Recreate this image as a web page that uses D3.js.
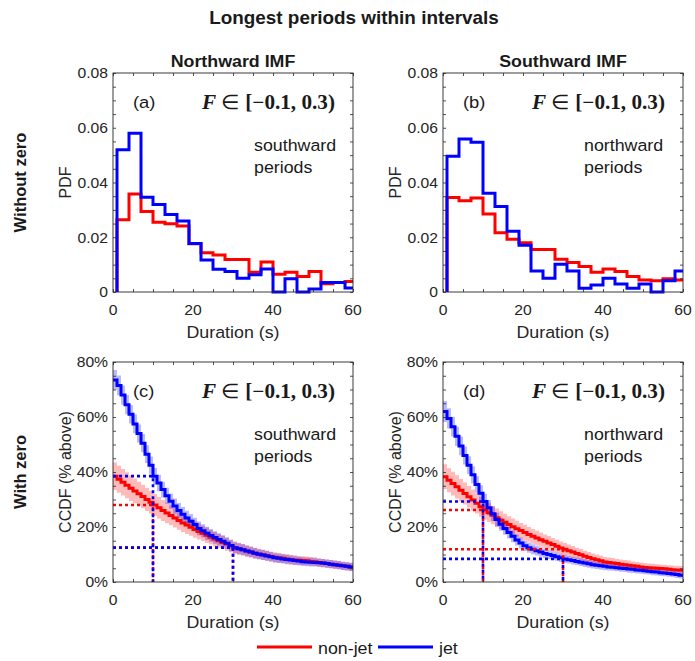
<!DOCTYPE html>
<html>
<head>
<meta charset="utf-8">
<script src="https://cdn.jsdelivr.net/npm/d3@7"></script>
<style>
  body { margin: 0; background: #fff; }
  svg { display: block; }
</style>
</head>
<body>
<svg id="fig" width="695" height="661"></svg>
<script>
// ---------- data ----------
// PDF histograms: 3-s bins, each value is the density of the bin starting at binStarts[i]
const binStarts = [1, 4, 7, 10, 13, 16, 19, 22, 25, 28, 31, 34, 37, 40, 43, 46, 49, 52, 55, 58];

const pdfNorthNonJet = [0.0264, 0.0358, 0.0294, 0.0255, 0.0249, 0.0241, 0.0176, 0.0143, 0.0135, 0.0119,
                        0.0119, 0.0072, 0.0110, 0.0065, 0.0072, 0.0057, 0.0075, 0.0030, 0.0035, 0.0038];
const pdfNorthJet    = [0.0520, 0.0580, 0.0346, 0.0320, 0.0283, 0.0259, 0.0177, 0.0117, 0.0083, 0.0075,
                        0.0050, 0.0063, 0.0084, 0.0000, 0.0048, 0.0000, 0.0011, 0.0035, 0.0035, 0.0015];
const pdfSouthNonJet = [0.0345, 0.0333, 0.0343, 0.0285, 0.0216, 0.0193, 0.0180, 0.0155, 0.0155, 0.0120,
                        0.0108, 0.0093, 0.0072, 0.0084, 0.0075, 0.0057, 0.0044, 0.0041, 0.0048, 0.0044];
const pdfSouthJet    = [0.0496, 0.0559, 0.0547, 0.0361, 0.0312, 0.0222, 0.0171, 0.0077, 0.0050, 0.0101,
                        0.0077, 0.0014, 0.0026, 0.0050, 0.0029, 0.0014, 0.0029, 0.0000, 0.0041, 0.0077];

// CCDF (% of periods longer than the duration), one value per second, 0..60 s
const ccdfSeconds = d3.range(0, 61);

const ccdfNorthNonJet = [38.5, 37.4, 36.3, 35.2, 34.1, 33.1, 32.1, 31.1, 30.0, 29.0, 28.0,
                         27.0, 26.0, 25.1, 24.2, 23.3, 22.4, 21.5, 20.7, 19.9, 19.1,
                         18.4, 17.7, 17.0, 16.3, 15.6, 15.0, 14.4, 13.8, 13.1, 12.5,
                         12.1, 11.7, 11.3, 10.9, 10.5, 10.2, 9.9, 9.6, 9.3, 9.0,
                         8.8, 8.6, 8.4, 8.2, 8.0, 7.9, 7.8, 7.7, 7.5, 7.4,
                         7.1, 6.9, 6.7, 6.5, 6.3, 6.1, 5.9, 5.7, 5.5, 5.3];
const ccdfNorthJet    = [73.5, 71.5, 68.0, 64.5, 61.0, 57.5, 54.0, 50.5, 46.5, 42.5, 38.5,
                         36.0, 33.6, 31.4, 29.4, 27.6, 26.0, 24.6, 23.3, 22.1, 20.9,
                         19.5, 18.6, 17.7, 16.9, 16.2, 15.5, 14.8, 14.1, 13.3, 12.5,
                         12.1, 11.7, 11.3, 10.9, 10.5, 10.1, 9.8, 9.5, 9.2, 8.8,
                         8.6, 8.4, 8.2, 8.0, 7.8, 7.6, 7.4, 7.3, 7.2, 7.1,
                         7.0, 6.9, 6.7, 6.5, 6.3, 6.1, 5.9, 5.7, 5.5, 5.3];
const ccdfSouthNonJet = [38.3, 37.0, 35.8, 34.6, 33.4, 32.2, 31.0, 29.8, 28.6, 27.4, 26.2,
                         25.2, 24.3, 23.4, 22.5, 21.7, 20.9, 20.1, 19.4, 18.7, 18.0,
                         17.3, 16.6, 16.0, 15.4, 14.8, 14.2, 13.6, 13.0, 12.4, 11.9,
                         11.4, 10.9, 10.4, 9.9, 9.4, 8.9, 8.5, 8.1, 7.7, 7.3,
                         7.1, 6.9, 6.7, 6.5, 6.3, 6.1, 5.9, 5.7, 5.5, 5.3,
                         5.2, 5.1, 5.0, 4.9, 4.8, 4.6, 4.5, 4.4, 4.3, 4.1];
const ccdfSouthJet    = [62.0, 59.5, 56.5, 53.0, 49.5, 46.0, 42.5, 39.0, 35.5, 32.3, 29.3,
                         27.0, 24.8, 22.7, 21.0, 19.5, 18.0, 16.6, 15.3, 14.2, 13.2,
                         12.5, 11.9, 11.4, 10.9, 10.4, 10.0, 9.6, 9.2, 8.8, 8.4,
                         8.1, 7.8, 7.5, 7.2, 6.9, 6.6, 6.3, 6.1, 5.9, 5.7,
                         5.5, 5.4, 5.2, 5.0, 4.9, 4.7, 4.6, 4.4, 4.3, 4.1,
                         3.9, 3.7, 3.6, 3.4, 3.3, 3.1, 2.9, 2.7, 2.5, 2.2];

// half-widths of the uncertainty bands around each CCDF (percentage points)
const bandNorthNonJet = [5.0, 4.9, 4.8, 4.7, 4.6, 4.5, 4.4, 4.3, 4.2, 4.1, 4.0,
                         3.9, 3.8, 3.7, 3.6, 3.5, 3.4, 3.3, 3.2, 3.1, 3.0,
                         2.9, 2.8, 2.8, 2.7, 2.6, 2.5, 2.4, 2.4, 2.3, 2.2,
                         2.2, 2.1, 2.1, 2.0, 2.0, 1.9, 1.9, 1.9, 1.8, 1.8,
                         1.8, 1.7, 1.7, 1.7, 1.7, 1.6, 1.6, 1.6, 1.6, 1.6,
                         1.5, 1.5, 1.5, 1.5, 1.5, 1.5, 1.5, 1.5, 1.5, 1.5];
const bandNorthJet    = [3.6, 3.6, 3.5, 3.5, 3.4, 3.4, 3.3, 3.3, 3.2, 3.1, 3.0,
                         3.0, 2.9, 2.9, 2.8, 2.8, 2.7, 2.7, 2.6, 2.6, 2.5,
                         2.5, 2.4, 2.4, 2.3, 2.3, 2.2, 2.2, 2.1, 2.1, 2.0,
                         2.0, 2.0, 1.9, 1.9, 1.9, 1.8, 1.8, 1.8, 1.7, 1.7,
                         1.7, 1.7, 1.7, 1.6, 1.6, 1.6, 1.6, 1.6, 1.6, 1.5,
                         1.5, 1.5, 1.5, 1.5, 1.5, 1.5, 1.5, 1.5, 1.5, 1.5];
const bandSouthNonJet = [4.5, 4.4, 4.3, 4.2, 4.1, 4.0, 3.9, 3.8, 3.7, 3.6, 3.5,
                         3.4, 3.3, 3.3, 3.2, 3.1, 3.0, 3.0, 2.9, 2.8, 2.8,
                         2.7, 2.7, 2.6, 2.6, 2.5, 2.5, 2.4, 2.4, 2.3, 2.3,
                         2.2, 2.2, 2.1, 2.1, 2.0, 2.0, 1.9, 1.9, 1.9, 1.8,
                         1.8, 1.8, 1.7, 1.7, 1.7, 1.7, 1.6, 1.6, 1.6, 1.6,
                         1.5, 1.5, 1.5, 1.5, 1.5, 1.5, 1.5, 1.5, 1.5, 1.5];
const bandSouthJet    = [3.8, 3.7, 3.6, 3.5, 3.4, 3.3, 3.2, 3.1, 3.0, 2.9, 2.8,
                         2.7, 2.6, 2.5, 2.4, 2.3, 2.2, 2.1, 2.0, 2.0, 1.9,
                         1.9, 1.8, 1.8, 1.7, 1.7, 1.6, 1.6, 1.5, 1.5, 1.5,
                         1.4, 1.4, 1.4, 1.4, 1.4, 1.4, 1.4, 1.4, 1.4, 1.4,
                         1.3, 1.3, 1.3, 1.3, 1.3, 1.3, 1.3, 1.3, 1.3, 1.3,
                         1.2, 1.2, 1.2, 1.2, 1.2, 1.2, 1.2, 1.2, 1.2, 1.2];

// durations picked out with dotted guide lines on the CCDF panels
const markerDurations = [10, 30];

// axis ticks
const durationTicks = [0, 20, 40, 60];
const durationMinor = d3.range(0, 61, 5);
const pdfTicks = [0, 0.02, 0.04, 0.06, 0.08];
const pdfMinor = d3.range(0, 0.0801, 0.005);
const ccdfTicks = [0, 20, 40, 60, 80];
const ccdfMinor = d3.range(0, 81, 5);

const seriesNames = ["non-jet", "jet"];

// ---------- styling ----------
const RED = "#ff0000", BLUE = "#0000ff", AXIS = "#262626", INK = "#1a1a1a";
const SANS = "'Liberation Sans', Arial, Helvetica, sans-serif";
const SERIF = "'Liberation Serif', 'Times New Roman', serif";
const SX = 1.08; // slight horizontal widening of glyphs

const svg = d3.select("#fig");

function text(g, x, y, str, o = {}) {
  const t = g.append("text")
    .attr("transform", o.rotate
      ? `translate(${x},${y}) rotate(${o.rotate})`
      : `translate(${x},${y}) scale(${o.sx ?? SX},1)`)
    .attr("text-anchor", o.anchor || "start")
    .attr("dominant-baseline", o.baseline || "central")
    .style("font-family", o.family || SANS)
    .style("font-size", (o.size || 16) + "px")
    .style("font-weight", o.weight || "normal")
    .style("fill", o.fill || INK)
    .text(str);
  return t;
}

// ---------- layout ----------
const cols = [[113, 353], [443, 683]];
const rows = [[73, 292], [362, 582]];

const panels = [
  { col: 0, row: 0, kind: "pdf", letter: "(a)", note: ["southward", "periods"],
    nonjet: pdfNorthNonJet, jet: pdfNorthJet },
  { col: 1, row: 0, kind: "pdf", letter: "(b)", note: ["northward", "periods"],
    nonjet: pdfSouthNonJet, jet: pdfSouthJet },
  { col: 0, row: 1, kind: "ccdf", letter: "(c)", note: ["southward", "periods"],
    nonjet: ccdfNorthNonJet, jet: ccdfNorthJet, nonjetBand: bandNorthNonJet, jetBand: bandNorthJet },
  { col: 1, row: 1, kind: "ccdf", letter: "(d)", note: ["northward", "periods"],
    nonjet: ccdfSouthNonJet, jet: ccdfSouthJet, nonjetBand: bandSouthNonJet, jetBand: bandSouthJet }
];

// ---------- titles ----------
text(svg, 354, 18, "Longest periods within intervals", { anchor: "middle", size: 17.5, weight: "bold" });
text(svg, (cols[0][0] + cols[0][1]) / 2, 61, "Northward IMF", { anchor: "middle", size: 16.5, weight: "bold" });
text(svg, (cols[1][0] + cols[1][1]) / 2, 61, "Southward IMF", { anchor: "middle", size: 16.5, weight: "bold" });
text(svg, 20, (rows[0][0] + rows[0][1]) / 2, "Without zero", { anchor: "middle", size: 16.5, weight: "bold", rotate: -90 });
text(svg, 20, (rows[1][0] + rows[1][1]) / 2, "With zero", { anchor: "middle", size: 16.5, weight: "bold", rotate: -90 });

// ---------- panels ----------
panels.forEach(p => {
  const [x0, x1] = cols[p.col];
  const [y0, y1] = rows[p.row];
  const g = svg.append("g");
  const x = d3.scaleLinear().domain([0, 60]).range([x0, x1]);
  const y = p.kind === "pdf"
    ? d3.scaleLinear().domain([0, 0.08]).range([y1, y0])
    : d3.scaleLinear().domain([0, 80]).range([y1, y0]);

  const clipId = "clip-" + p.letter.replace(/\W/g, "");
  svg.append("clipPath").attr("id", clipId)
    .append("rect").attr("x", x0).attr("y", y0 - 4).attr("width", x1 - x0).attr("height", y1 - y0 + 8);
  const plot = g.append("g").attr("clip-path", `url(#${clipId})`);

  if (p.kind === "pdf") {
    const step = d3.line().x(d => x(d[0])).y(d => y(d[1])).curve(d3.curveStepAfter);
    const pts = vals => [[binStarts[0], 0], ...binStarts.map((s, i) => [s, vals[i]]), [60, vals[vals.length - 1]]];
    [[p.nonjet, RED], [p.jet, BLUE]].forEach(([vals, c]) => {
      plot.append("path").attr("d", step(pts(vals)))
        .attr("fill", "none").attr("stroke", c).attr("stroke-width", 3)
        .attr("stroke-linejoin", "miter");
    });
  } else {
    const band = d3.area().x(d => x(d[0])).y0(d => y(d[1] - d[2])).y1(d => y(d[1] + d[2])).curve(d3.curveStepAfter);
    const step = d3.line().x(d => x(d[0])).y(d => y(d[1])).curve(d3.curveStepAfter);
    const series = [
      { vals: p.nonjet, hw: p.nonjetBand, c: RED },
      { vals: p.jet, hw: p.jetBand, c: BLUE }
    ];
    series.forEach(s => {
      plot.append("path")
        .attr("d", band(ccdfSeconds.map((t, i) => [t, s.vals[i], s.hw[i]])))
        .attr("fill", s.c).attr("fill-opacity", 0.27).attr("stroke", "none");
    });
    series.forEach(s => {
      plot.append("path")
        .attr("d", step(ccdfSeconds.map((t, i) => [t, s.vals[i]])))
        .attr("fill", "none").attr("stroke", s.c).attr("stroke-width", 3);
    });
    // dotted guides: value of each curve at the marked durations
    series.forEach(s => {
      markerDurations.forEach(m => {
        const v = s.vals[ccdfSeconds.indexOf(m)];
        plot.append("path")
          .attr("d", `M${x(0)},${y(v)}H${x(m)}V${y(0)}`)
          .attr("fill", "none").attr("stroke", s.c).attr("stroke-width", 2.6)
          .attr("stroke-dasharray", "3,3");
      });
    });
  }

  // ticks on all four sides, pointing inward
  const tl = 3;
  g.append("g").attr("transform", `translate(0,${y1})`)
    .call(d3.axisBottom(x).tickValues(durationMinor).tickSize(-tl).tickFormat(""));
  g.append("g").attr("transform", `translate(0,${y0})`)
    .call(d3.axisTop(x).tickValues(durationMinor).tickSize(-tl).tickFormat(""));
  const yMinor = p.kind === "pdf" ? pdfMinor : ccdfMinor;
  g.append("g").attr("transform", `translate(${x0},0)`)
    .call(d3.axisLeft(y).tickValues(yMinor).tickSize(-tl).tickFormat(""));
  g.append("g").attr("transform", `translate(${x1},0)`)
    .call(d3.axisRight(y).tickValues(yMinor).tickSize(-tl).tickFormat(""));
  g.selectAll(".domain").remove();
  g.selectAll(".tick line").attr("stroke", AXIS).attr("stroke-width", 0.8);

  g.append("rect").attr("x", x0).attr("y", y0).attr("width", x1 - x0).attr("height", y1 - y0)
    .attr("fill", "none").attr("stroke", AXIS).attr("stroke-width", 0.9);

  // tick labels
  durationTicks.forEach(t => text(g, x(t), y1 + 18, String(t), { anchor: "middle", size: 14.5, fill: AXIS }));
  if (p.kind === "pdf") {
    pdfTicks.forEach(t => text(g, x0 - 5, y(t), t === 0 ? "0" : d3.format(".2f")(t), { anchor: "end", size: 14.5, fill: AXIS }));
    text(g, x0 - 48, (y0 + y1) / 2, "PDF", { anchor: "middle", size: 16, rotate: -90, fill: AXIS });
  } else {
    ccdfTicks.forEach(t => text(g, x0 - 5, y(t), t + "%", { anchor: "end", size: 14.5, fill: AXIS }));
    text(g, x0 - 48, (y0 + y1) / 2, "CCDF (% above)", { anchor: "middle", size: 16, rotate: -90, fill: AXIS });
  }
  text(g, (x0 + x1) / 2, y1 + 40, "Duration (s)", { anchor: "middle", size: 16.5, fill: AXIS });

  // annotations
  text(g, x0 + 20, y0 + 29, p.letter, { size: 17 });
  const f = g.append("text")
    .attr("transform", `translate(${x1 - 18},${y0 + 29}) scale(1.06,1)`)
    .attr("text-anchor", "end").attr("dominant-baseline", "central")
    .style("font-family", SERIF).style("font-size", "20px").style("font-weight", "bold").style("fill", INK);
  f.append("tspan").style("font-style", "italic").text("F");
  f.append("tspan").style("font-weight", "normal").text(" \u2208 ");
  f.append("tspan").text("[\u22120.1, 0.3)");
  text(g, x0 + 141, y0 + 72, p.note[0], { size: 16.5 });
  text(g, x0 + 141, y0 + 94, p.note[1], { size: 16.5 });
});

// ---------- legend ----------
const legend = svg.append("g");
const legendItems = [
  { name: seriesNames[0], c: RED, x: 257 },
  { name: seriesNames[1], c: BLUE, x: 378 }
];
legendItems.forEach(it => {
  legend.append("line").attr("x1", it.x).attr("x2", it.x + 55).attr("y1", 647).attr("y2", 647)
    .attr("stroke", it.c).attr("stroke-width", 3);
  text(legend, it.x + 61, 648, it.name, { size: 16.5 });
});
</script>
</body>
</html>
